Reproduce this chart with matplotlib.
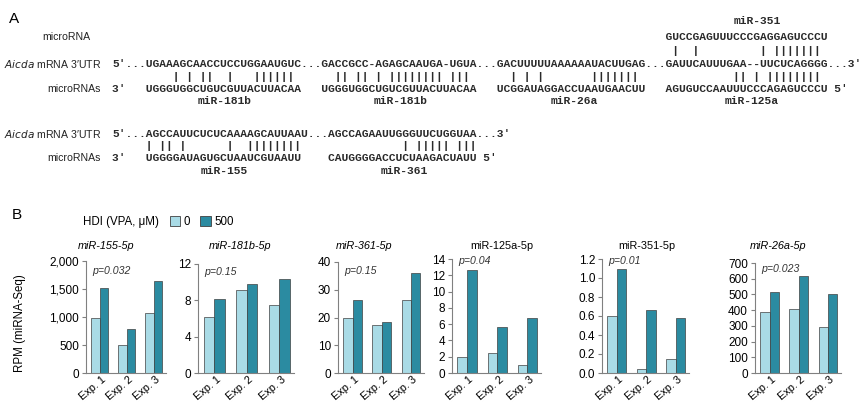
import numpy as np
import matplotlib
matplotlib.use("Agg")
import matplotlib.pyplot as plt
from matplotlib.patches import Patch
from matplotlib.ticker import FuncFormatter

W, H = 865, 404

# ---- panel A data: Aicda 3'UTR sites and microRNA sequences ----
utr_row1 = ["UGAAAGCAACCUCCUGGAAUGUC", "GACCGCC-AGAGCAAUGA-UGUA",
            "GACUUUUUAAAAAAUACUUGAG", "GAUUCAUUUGAA--UUCUCAGGGG"]
mir_row1 = ["UGGGUGGCUGUCGUUACUUACAA", "UGGGUGGCUGUCGUUACUUACAA",
            "UCGGAUAGGACCUAAUGAACUU", "AGUGUCCAAUUUCCCAGAGUCCCU"]
names_row1 = ["miR-181b", "miR-181b", "miR-26a", "miR-125a"]
pairs_row1 = [[4, 6, 8, 9, 12, 16, 17, 18, 19, 20, 21],
              [2, 3, 5, 6, 8, 10, 11, 12, 13, 14, 15, 16, 17, 19, 20, 21],
              [2, 4, 6, 14, 15, 16, 17, 18, 19, 20],
              [10, 11, 13, 15, 16, 17, 18, 19, 20, 21, 22]]
mir351_seq = "GUCCGAGUUUCCCGAGGAGUCCCU"
pairs_351 = [1, 4, 14, 16, 17, 18, 19, 20, 21, 22]

utr_row2 = ["AGCCAUUCUCUCAAAAGCAUUAAU", "AGCCAGAAUUGGGUUCUGGUAA"]
mir_row2 = ["UGGGGAUAGUGCUAAUCGUAAUU", "CAUGGGGACCUCUAAGACUAUU"]
names_row2 = ["miR-155", "miR-361"]
pairs_row2 = [[0, 2, 3, 5, 12, 15, 16, 17, 18, 19, 20, 21, 22],
              [11, 13, 14, 15, 16, 17, 19, 20, 21]]

# ---- panel B data: RPM (miRNA-Seq) ----
exps = ["Exp. 1", "Exp. 2", "Exp. 3"]
mirs = ["miR-155-5p", "miR-181b-5p", "miR-361-5p", "miR-125a-5p", "miR-351-5p", "miR-26a-5p"]
title_italic = [True, True, True, False, False, True]
vpa_0 = [[980, 500, 1070], [6.2, 9.1, 7.5], [20, 17.2, 26.2],
         [2.0, 2.4, 1.0], [0.60, 0.04, 0.15], [390, 405, 290]]
vpa_500 = [[1520, 780, 1640], [8.2, 9.8, 10.4], [26.3, 18.5, 36],
           [12.6, 5.7, 6.7], [1.10, 0.66, 0.58], [515, 620, 505]]
p_vals = ["p=0.032", "p=0.15", "p=0.15", "p=0.04", "p=0.01", "p=0.023"]
yticks = [[0, 500, 1000, 1500, 2000], [0, 4, 8, 12], [0, 10, 20, 30, 40],
          list(range(0, 15, 2)), [0, 0.2, 0.4, 0.6, 0.8, 1.0, 1.2],
          list(range(0, 701, 100))]

light = "#a9dbe6"
dark = "#2b8ba1"

fig = plt.figure(figsize=(W / 100, H / 100), dpi=100)


def fx(x):
    return x / W


def fy(y):
    return 1 - y / H


sans = "Liberation Sans"
mono = dict(family=["Liberation Mono", "DejaVu Sans Mono"], fontsize=8.15, fontweight="bold",
            va="center", ha="left", color="#2a2a2a")
x0, cw = 112, 6.8  # left of the sequence block, width of one character


def build_rows(utr, mir, pairs, start_txt="5′..."):
    top = start_txt
    starts = []
    for i, seg in enumerate(utr):
        if i > 0:
            top += "..."
        starts.append(len(top))
        top += seg
    top += "...3′"
    low = list(" " * (len(top) + 3))
    bars = list(" " * len(top))
    low[0:2] = "3′"
    for s, seq, pr in zip(starts, mir, pairs):
        low[s:s + len(seq)] = seq
        for p in pr:
            bars[s + p] = "|"
    return top, "".join(bars).rstrip(), "".join(low).rstrip(), starts


# panel A
fig.text(fx(9), fy(19), "A", fontsize=11, family=sans, va="center")
lab = dict(family=sans, fontsize=7.6, va="center", color="#222222")
fig.text(fx(42), fy(37), "microRNA", ha="left", **lab)

r1_top, r1_bars, r1_low, st1 = build_rows(utr_row1, mir_row1, pairs_row1)
r1_low = r1_low + " 5′"
y_top, y_b, y_low, y_name = 64, 77, 89, 101
fig.text(fx(101), fy(y_top), "$\\it{Aicda}$ mRNA 3′UTR", ha="right", **lab)
fig.text(fx(101), fy(y_low), "microRNAs", ha="right", **lab)
fig.text(fx(x0), fy(y_top), r1_top, **mono)
fig.text(fx(x0), fy(y_b), r1_bars, **mono)
fig.text(fx(x0), fy(y_low), r1_low, **mono)
for s, seq, nm in zip(st1, mir_row1, names_row1):
    fig.text(fx(x0 + (s + len(seq) / 2) * cw), fy(y_name), nm,
             **{**mono, "ha": "center"})

# miR-351 above the last site
s4 = st1[3]
bars351 = list(" " * (s4 + len(mir351_seq)))
for p in pairs_351:
    bars351[s4 + p] = "|"
fig.text(fx(x0), fy(51), "".join(bars351), **mono)
fig.text(fx(x0), fy(37), " " * s4 + mir351_seq, **mono)
fig.text(fx(x0 + (s4 + len(mir351_seq) / 2) * cw + 6), fy(21), "miR-351",
         **{**mono, "ha": "center"})

r2_top, r2_bars, r2_low, st2 = build_rows(utr_row2, mir_row2, pairs_row2)
r2_low = r2_low + " 5′"
y_top, y_b, y_low, y_name = 134, 146, 158, 171
fig.text(fx(101), fy(y_top), "$\\it{Aicda}$ mRNA 3′UTR", ha="right", **lab)
fig.text(fx(101), fy(y_low), "microRNAs", ha="right", **lab)
fig.text(fx(x0), fy(y_top), r2_top, **mono)
fig.text(fx(x0), fy(y_b), r2_bars, **mono)
fig.text(fx(x0), fy(y_low), r2_low, **mono)
for s, seq, nm in zip(st2, mir_row2, names_row2):
    fig.text(fx(x0 + (s + len(seq) / 2) * cw), fy(y_name), nm,
             **{**mono, "ha": "center"})

# panel B
fig.text(fx(12), fy(215), "B", fontsize=11, family=sans, va="center")
fig.text(fx(83), fy(222), "HDI (VPA, μM)", family=sans, fontsize=8.3, va="center")
handles = [Patch(facecolor=light, edgecolor="#404040", lw=0.6, label="0"),
           Patch(facecolor=dark, edgecolor="#404040", lw=0.6, label="500")]
fig.legend(handles=handles, loc="center left", bbox_to_anchor=(fx(164), fy(222)), ncol=2,
           frameon=False, handlelength=0.9, handleheight=0.9, handletextpad=0.3,
           columnspacing=0.9, prop={"family": sans, "size": 8.3}, borderpad=0)

boxes = [(86, 166, 261), (198, 294, 264), (338, 424, 262),
         (452, 541, 259), (602, 689, 259), (755, 841, 263)]
title_x = [106, 240, 364, 502, 647, 778]
p_y = [271, 272, 271, 261, 261, 269]
bottom = 373
x = np.arange(len(exps))
bw = 0.32

for i in range(6):
    l, r, t = boxes[i]
    ax = fig.add_axes([fx(l), fy(bottom), (r - l) / W, (bottom - t) / H])
    ax.bar(x - bw / 2, vpa_0[i], bw, color=light, edgecolor="#404040", lw=0.5)
    ax.bar(x + bw / 2, vpa_500[i], bw, color=dark, edgecolor="#404040", lw=0.5)
    ax.set_xlim(-0.5, 2.45)
    ax.set_ylim(yticks[i][0], yticks[i][-1])
    ax.set_yticks(yticks[i])
    if i == 0:
        ax.yaxis.set_major_formatter(FuncFormatter(lambda v, p: f"{v:,.0f}"))
    elif i == 4:
        ax.yaxis.set_major_formatter(FuncFormatter(lambda v, p: f"{v:.1f}"))
    ax.set_xticks(x + 0.05)
    ax.set_xticklabels(exps, rotation=40, ha="right", va="top", rotation_mode="anchor",
                       family=sans, fontsize=7.9)
    for sp in ["top", "right"]:
        ax.spines[sp].set_visible(False)
    for sp in ["left", "bottom"]:
        ax.spines[sp].set_color("#808080")
        ax.spines[sp].set_linewidth(0.8)
    ax.tick_params(axis="y", length=3, width=0.8, color="#808080", pad=2, labelsize=8.5)
    ax.tick_params(axis="x", length=0, pad=1)
    for tl in ax.get_yticklabels():
        tl.set_family(sans)
    ax.patch.set_alpha(0)
    fig.text(fx(title_x[i]), fy(246), mirs[i], ha="center", va="center", family=sans,
             fontsize=7.8, style="italic" if title_italic[i] else "normal")
    fig.text(fx(l + 6), fy(p_y[i]), p_vals[i], ha="left", va="center", family=sans,
             fontsize=7.6, style="italic", color="#333333")

fig.text(fx(20), fy(323), "RPM (miRNA-Seq)", rotation=90, ha="center", va="center",
         family=sans, fontsize=8.3)

fig.savefig("out.png", dpi=100)
